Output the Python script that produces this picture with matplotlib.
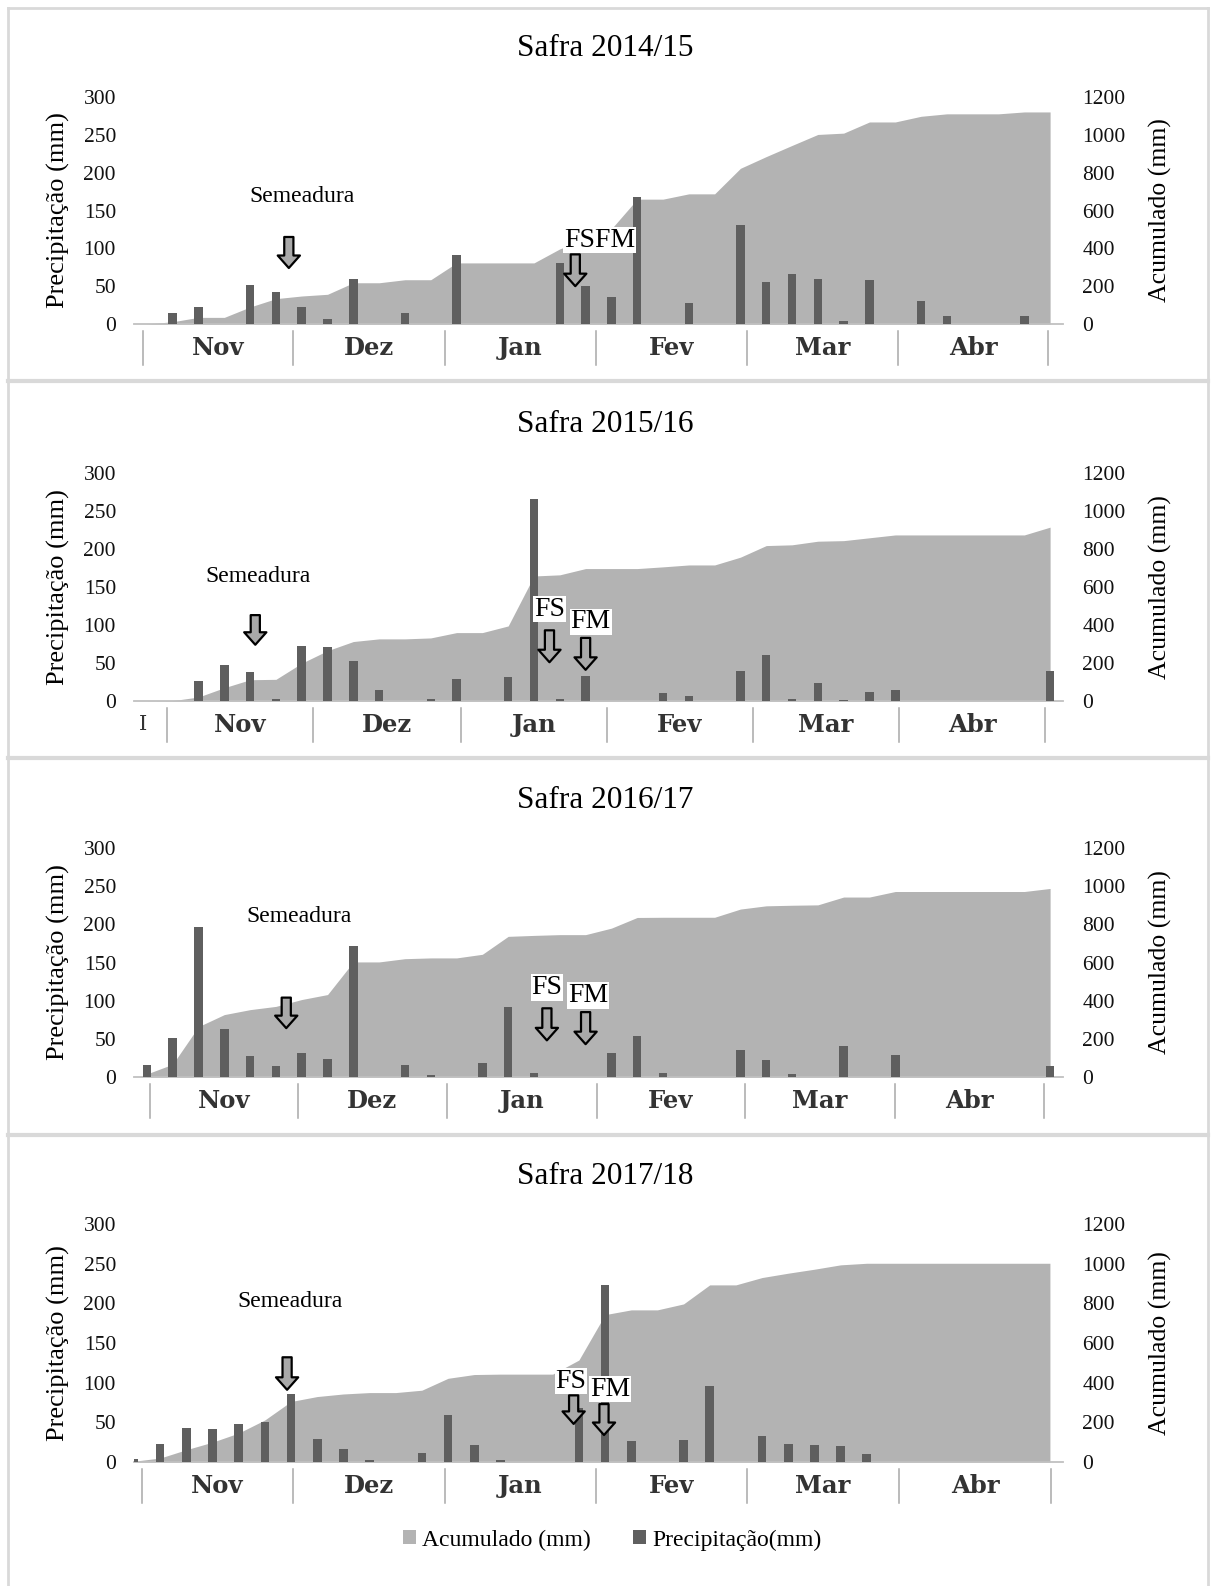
import matplotlib
matplotlib.use("Agg")
import matplotlib.pyplot as plt
import numpy as np
from matplotlib.patches import Patch
from matplotlib.lines import Line2D

W, H, DPI = 1216, 1586, 100

# ---------------- data ----------------
titles = ["Safra 2014/15", "Safra 2015/16", "Safra 2016/17", "Safra 2017/18"]
months = ["Nov", "Dez", "Jan", "Fev", "Mar", "Abr"]
left_ticks = [0, 50, 100, 150, 200, 250, 300]
right_ticks = [0, 200, 400, 600, 800, 1000, 1200]

prec_1415 = [0, 14, 23, 0, 51, 42, 22, 6, 60, 0, 14, 0, 91, 0, 0, 0, 80, 50,
             36, 168, 0, 28, 0, 131, 56, 66, 59, 4, 58, 0, 31, 10, 0, 0, 10, 0]
acum_1415 = [0, 12, 35, 35, 90, 134, 148, 157, 218, 218, 234, 234, 323, 323, 323,
             323, 397, 450, 503, 660, 660, 688, 688, 823, 885, 944, 1002, 1009,
             1068, 1068, 1098, 1111, 1111, 1111, 1121, 1121]

prec_1516 = [0, 0, 26, 47, 38, 2, 72, 71, 53, 14, 0, 3, 29, 0, 32, 266, 2, 33,
             0, 0, 10, 6, 0, 39, 60, 2, 24, 1, 12, 14, 0, 0, 0, 0, 0, 40]
acum_1516 = [0, 2, 21, 70, 112, 114, 199, 265, 313, 327, 327, 332, 360, 360, 395,
             658, 664, 697, 697, 697, 706, 716, 716, 757, 818, 822, 841, 844, 859,
             874, 874, 874, 874, 874, 874, 915]

prec_1617 = [16, 51, 197, 63, 28, 14, 32, 23, 172, 0, 16, 3, 0, 18, 92, 5, 0, 0,
             32, 54, 5, 0, 0, 35, 22, 4, 0, 40, 0, 29, 0, 0, 0, 0, 0, 14]
acum_1617 = [16, 67, 264, 327, 353, 370, 406, 432, 603, 603, 620, 624, 624, 643,
             737, 742, 746, 746, 780, 836, 837, 837, 837, 880, 897, 900, 902, 943,
             943, 972, 972, 972, 972, 972, 972, 988]

prec_1718 = [4, 23, 43, 41, 48, 51, 86, 29, 16, 3, 0, 11, 59, 21, 2, 0, 0, 68,
             223, 27, 0, 28, 96, 0, 33, 23, 21, 20, 10, 0, 0, 0, 0, 0, 0, 0]
acum_1718 = [4, 20, 62, 100, 146, 212, 305, 330, 343, 350, 350, 362, 422, 441,
             443, 443, 443, 514, 743, 767, 767, 797, 893, 893, 930, 952, 972, 994,
             1002, 1002, 1002, 1002, 1002, 1002, 1002, 1002]

precs = [prec_1415, prec_1516, prec_1617, prec_1718]
acums = [acum_1415, acum_1516, acum_1617, acum_1718]

# event markers (x in category units, y in mm of the left axis)
events = [
    [("Semeadura", 6.0, 168, 5.5, 115, 74, False),
     ("FSFM", 17.55, 111, 16.6, 92, 50, True)],
    [("Semeadura", 4.3, 164, 4.2, 113, 74, False),
     ("FS", 15.6, 121, 15.6, 93, 51, True),
     ("FM", 17.2, 104, 17.0, 83, 41, True)],
    [("Semeadura", 5.9, 210, 5.4, 104, 64, False),
     ("FS", 15.5, 117, 15.5, 90, 48, True),
     ("FM", 17.1, 107, 17.0, 85, 43, True)],
    [("Semeadura", 5.96, 202, 5.85, 132, 91, False),
     ("FS", 16.7, 102, 16.8, 84, 48, True),
     ("FM", 18.2, 92, 17.96, 73, 34, True)],
]

# ---------------- layout (pixels) ----------------
AX_L, AX_R = 134, 1063
panels = [
    dict(top=97, bot=324, title_y=48, xlim=(-0.5, 35.5),
         seps=[143, 293, 445, 596, 747, 898, 1048]),
    dict(top=473, bot=701, title_y=424, xlim=(-0.5, 35.5),
         seps=[167, 313, 461, 607, 753, 899, 1045]),
    dict(top=848, bot=1077, title_y=800, xlim=(-0.5, 35.5),
         seps=[150, 298, 447, 597, 745, 895, 1044]),
    dict(top=1224, bot=1462, title_y=1176, xlim=(0, 35.5),
         seps=[142, 293, 445, 596, 747, 899, 1051]),
]

C_AREA = "#b3b3b3"
C_BAR = "#5f5f5f"
C_AXIS = "#c0c0c0"
C_SEP = "#a8a8a8"
SERIF = ["Liberation Serif", "DejaVu Serif"]

plt.rcParams["font.family"] = SERIF

fig = plt.figure(figsize=(W / DPI, H / DPI), dpi=DPI)
fig.patch.set_facecolor("white")


def fx(px):
    return px / W


def fy(py):
    return 1 - py / H


for p, title, prec, acum, evs in zip(panels, titles, precs, acums, events):
    ax = fig.add_axes([fx(AX_L), fy(p["bot"]), fx(AX_R - AX_L), (p["bot"] - p["top"]) / H])
    ax2 = ax.twinx()
    ax.set_zorder(ax2.get_zorder() + 1)
    ax.patch.set_visible(False)

    x = np.arange(len(prec))
    ax2.fill_between(x, 0, acum, color=C_AREA, lw=0, zorder=1)
    ax.bar(x, prec, width=0.33, color=C_BAR, zorder=3)

    ax.set_xlim(*p["xlim"])
    ax2.set_xlim(*p["xlim"])
    ax.set_ylim(0, 300)
    ax2.set_ylim(0, 1200)
    ax.set_yticks(left_ticks)
    ax2.set_yticks(right_ticks)
    ax.set_xticks([])
    ax.tick_params(axis="y", length=0, pad=13, labelsize=15.5, labelcolor="#111111")
    ax2.tick_params(axis="y", length=0, pad=14, labelsize=15.5, labelcolor="#111111")
    for s in ["top", "left", "right"]:
        ax.spines[s].set_visible(False)
    for s in ["top", "left", "right", "bottom"]:
        ax2.spines[s].set_visible(False)
    ax.spines["bottom"].set_color(C_AXIS)
    ax.spines["bottom"].set_linewidth(1.3)
    ax.spines["bottom"].set_zorder(0)

    # month row
    bot = p["bot"]
    for sx in p["seps"]:
        fig.add_artist(Line2D([fx(sx), fx(sx)], [fy(bot + 7), fy(bot + 41)],
                              color=C_SEP, lw=1.1))
    for i, m in enumerate(months):
        cx = (p["seps"][i] + p["seps"][i + 1]) / 2
        fig.text(fx(cx), fy(bot + 24), m, ha="center", va="center",
                 fontsize=17.5, fontweight="semibold", color="#333333",
                 family=["DejaVu Serif"])

    # titles and axis labels
    fig.text(fx(605), fy(p["title_y"]), title, ha="center", va="center", fontsize=22.5)
    cy = (p["top"] + p["bot"]) / 2
    fig.text(fx(58), fy(cy), "Precipitação (mm)", rotation=90, ha="center",
             va="center", fontsize=19)
    fig.text(fx(1160), fy(cy), "Acumulado (mm)", rotation=90, ha="center",
             va="center", fontsize=18.5)

    # event annotations
    for label, tx, ty, axx, ytail, ytip, boxed in evs:
        if boxed:
            ax.text(tx, ty, label, ha="center", va="center", fontsize=20, zorder=6,
                    bbox=dict(boxstyle="square,pad=0.03", fc="white", ec="none"))
        else:
            ax.text(tx, ty, label, ha="center", va="center", fontsize=17, zorder=6)
        ax.annotate("", xy=(axx, ytip), xytext=(axx, ytail), zorder=7,
                    arrowprops=dict(arrowstyle="simple,head_length=0.45,head_width=0.8,tail_width=0.33",
                                    fc="#a9a9a9", ec="black", lw=1.6,
                                    shrinkA=0, shrinkB=0, mutation_scale=20))

# panel 2 truncated label at the left of the month row
fig.text(fx(143), fy(725), "I", ha="center", va="center", fontsize=15,
         color="#333333", family=["DejaVu Serif"])

# panel frames
BC = "#d9d9d9"
fig.add_artist(Line2D([fx(8), fx(1208)], [fy(8), fy(8)], color=BC, lw=2))
fig.add_artist(Line2D([fx(8), fx(8)], [fy(8), fy(1586)], color=BC, lw=2))
fig.add_artist(Line2D([fx(1208), fx(1208)], [fy(8), fy(1586)], color=BC, lw=2))
for yy in [381, 758, 1135]:
    fig.add_artist(Line2D([fx(8), fx(1208)], [fy(yy), fy(yy)], color=BC, lw=3))

# legend
handles = [Patch(facecolor=C_AREA, edgecolor="none"), Patch(facecolor=C_BAR, edgecolor="none")]
fig.legend(handles, ["Acumulado (mm)", "Precipitação(mm)"], loc="center",
           bbox_to_anchor=(fx(612), fy(1540)), ncol=2, frameon=False, fontsize=17,
           handlelength=0.55, handleheight=0.55, handletextpad=0.25, columnspacing=1.8)

fig.savefig("out.png", dpi=DPI, facecolor="white")
